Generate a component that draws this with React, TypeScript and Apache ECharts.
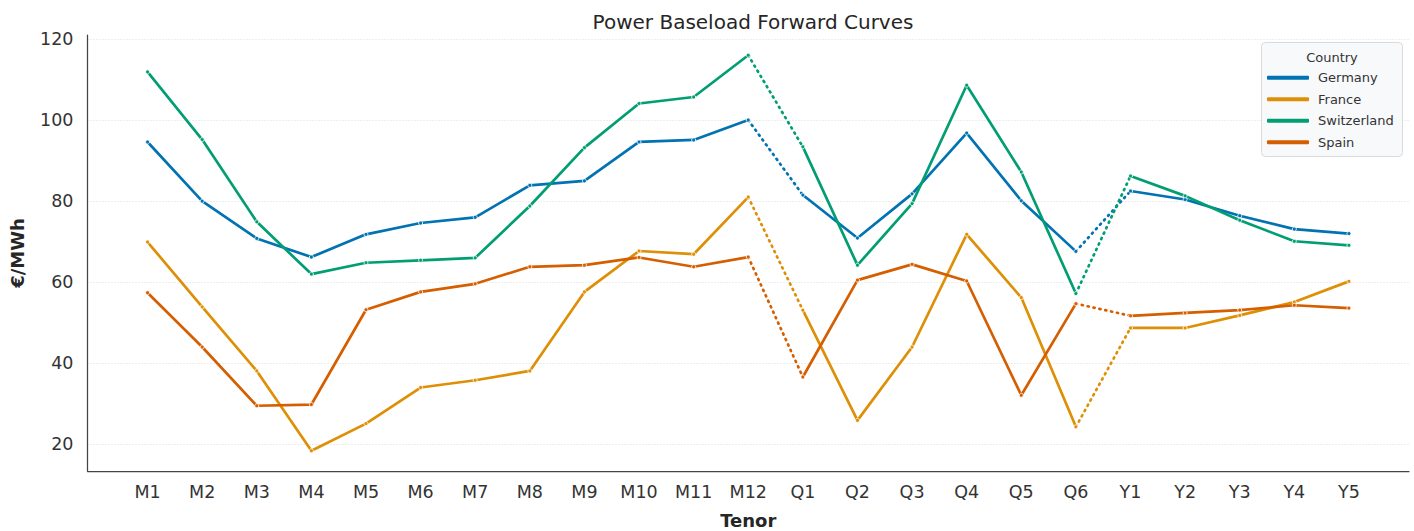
import React, { useEffect, useRef } from "react";
import * as echarts from "echarts";

const tenors = [
  "M1", "M2", "M3", "M4", "M5", "M6", "M7", "M8", "M9", "M10", "M11", "M12",
  "Q1", "Q2", "Q3", "Q4", "Q5", "Q6",
  "Y1", "Y2", "Y3", "Y4", "Y5",
];

const germany = [94.6, 80.0, 70.8, 66.2, 71.8, 74.6, 76.0, 83.9, 85.0, 94.6, 95.1, 100.0,
  81.5, 70.9, 81.8, 96.8, 80.1, 67.6,
  82.5, 80.4, 76.4, 73.1, 72.0];
const france = [69.9, 53.9, 38.1, 18.4, 25.1, 34.0, 35.8, 38.1, 57.6, 67.7, 66.9, 81.0,
  53.1, 25.9, 44.0, 71.8, 56.2, 24.3,
  48.7, 48.7, 51.8, 55.1, 60.2];
const switzerland = [111.9, 95.2, 74.9, 62.0, 64.8, 65.4, 66.0, 78.8, 93.2, 104.1, 105.7, 116.0,
  93.4, 64.2, 79.4, 108.6, 87.2, 57.2,
  86.2, 81.3, 75.3, 70.1, 69.1];
const spain = [57.4, 44.0, 29.5, 29.8, 53.2, 57.6, 59.6, 63.8, 64.2, 66.1, 63.8, 66.2,
  36.6, 60.5, 64.4, 60.3, 32.1, 54.7,
  51.7, 52.4, 53.1, 54.3, 53.6];

const countries = ["Germany", "France", "Switzerland", "Spain"];
const countryValues = [germany, france, switzerland, spain];
const colors = ["#0173b2", "#de8f05", "#029e73", "#d55e00"];
const groups: [number, number][] = [[0, 11], [12, 17], [18, 22]];
const yTicks = [20, 40, 60, 80, 100, 120];

const FONT = "DejaVu Sans";

export default function App() {
  const ref = useRef<HTMLDivElement>(null);

  useEffect(() => {
    document.body.style.margin = "0";
    if (!ref.current) return;
    const chart = echarts.init(ref.current, null, { renderer: "svg" });

    const series: any[] = [];
    countries.forEach((name, i) => {
      const vals = countryValues[i];
      const color = colors[i];
      groups.forEach(([a, b]) => {
        const data: number[][] = [];
        for (let k = a; k <= b; k++) data.push([k, vals[k]]);
        series.push({
          type: "line",
          name,
          data,
          color,
          symbol: "circle",
          symbolSize: 4,
          itemStyle: { color, borderColor: "#ffffff", borderWidth: 0.8 },
          lineStyle: { color, width: 2.7 },
          z: 3,
        });
      });
      for (let g = 0; g < groups.length - 1; g++) {
        const a = groups[g][1];
        const b = groups[g + 1][0];
        series.push({
          type: "line",
          name,
          data: [[a, vals[a]], [b, vals[b]]],
          color,
          symbol: "none",
          lineStyle: { color, width: 2.7, type: [1.2, 4.8], cap: "round" },
          z: 2,
        });
      }
    });

    chart.setOption({
      animation: false,
      backgroundColor: "#ffffff",
      textStyle: { fontFamily: FONT },
      title: {
        text: "Power Baseload Forward Curves",
        left: 748,
        textAlign: "center",
        top: 7,
        textStyle: { fontFamily: FONT, fontSize: 20, fontWeight: "normal", color: "#262626" },
      },
      grid: {
        left: 87.5,
        right: 5,
        top: 35,
        bottom: 60,
        containLabel: false,
        outerBoundsMode: "none",
      },
      xAxis: {
        type: "value",
        min: -1.1,
        max: 23.1,
        name: "Tenor",
        nameLocation: "middle",
        nameGap: 40,
        nameTextStyle: { fontFamily: FONT, fontSize: 18, fontWeight: "bold", color: "#262626" },
        axisLine: { show: true, onZero: false, lineStyle: { color: "#444444", width: 1.25 } },
        axisTick: { show: false, customValues: tenors.map((_, i) => i) },
        axisLabel: {
          customValues: tenors.map((_, i) => i),
          formatter: (v: number) => tenors[Math.round(v)] ?? "",
          fontFamily: FONT,
          fontSize: 17.5,
          color: "#333333",
          margin: 12,
        },
        splitLine: { show: false },
      },
      yAxis: {
        type: "value",
        min: 13.4,
        max: 121,
        name: "€/MWh",
        nameLocation: "middle",
        nameGap: 61,
        nameTextStyle: { fontFamily: FONT, fontSize: 18, fontWeight: "bold", color: "#262626" },
        axisLine: { show: true, onZero: false, lineStyle: { color: "#444444", width: 1.25 } },
        axisTick: { show: false, customValues: yTicks },
        axisLabel: {
          customValues: yTicks,
          fontFamily: FONT,
          fontSize: 17.5,
          color: "#333333",
          margin: 14,
        },
        splitLine: { show: true, lineStyle: { color: "#d4d4d4", width: 0.8, type: [1, 2] } },
      },
      legend: {
        orient: "vertical",
        left: 1267,
        top: 70.7,
        padding: 0,
        data: countries,
        icon: "roundRect",
        itemWidth: 42,
        itemHeight: 4,
        itemGap: 7.5,
        itemStyle: { borderWidth: 0 },
        textStyle: { fontFamily: FONT, fontSize: 13, color: "#333333", lineHeight: 14, padding: [0, 0, 0, 4] },
        z: 10,
      },
      graphic: [
        {
          type: "rect",
          shape: { x: 1261.5, y: 42.5, width: 141, height: 114, r: 4 },
          style: { fill: "#f8f9fb", stroke: "#d8dadd", lineWidth: 1 },
          z: 5,
        },
        {
          type: "text",
          x: 1332,
          y: 57,
          style: {
            text: "Country",
            fontFamily: FONT,
            fontSize: 13,
            fill: "#333333",
            align: "center",
            verticalAlign: "middle",
          },
          z: 11,
        },
      ],
      series,
    });

    return () => chart.dispose();
  }, []);

  return (
    <div
      ref={ref}
      style={{ position: "fixed", left: 0, top: 0, width: 1414, height: 531 }}
    />
  );
}
